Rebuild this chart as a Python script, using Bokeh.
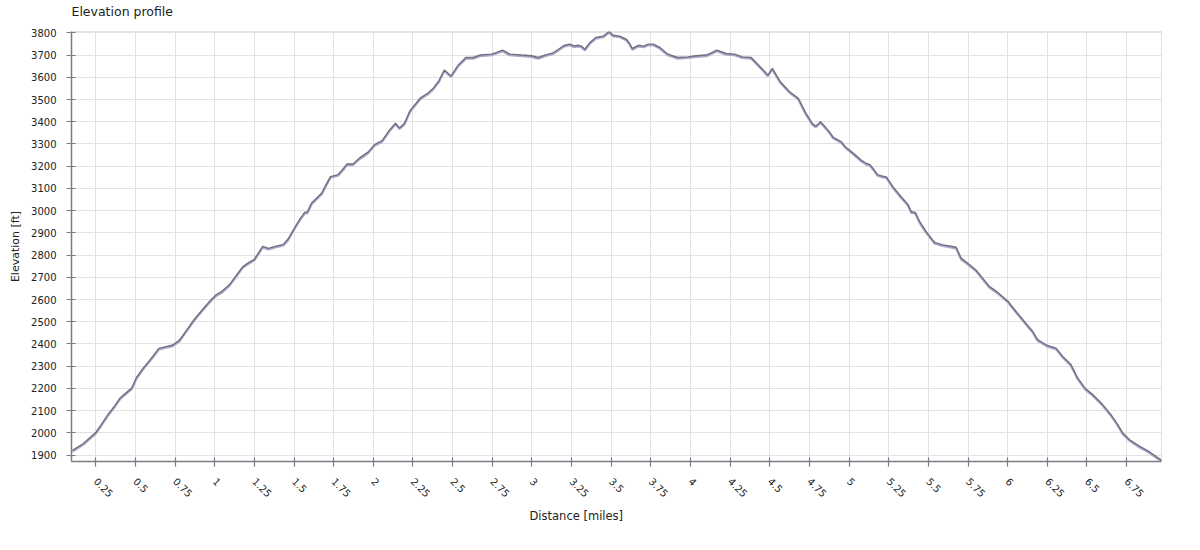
import math
from bokeh.plotting import figure
from bokeh.models import ColumnDataSource, FixedTicker, Range1d, Title
from bokeh.transform import dodge
from bokeh.embed import file_html
from bokeh.resources import INLINE

# ---- data ----
distance_mi = [0.103, 0.170, 0.202, 0.25, 0.286, 0.328, 0.369, 0.405, 0.443, 0.478,
               0.506, 0.548, 0.600, 0.648, 0.694, 0.736, 0.778, 0.820, 0.872, 0.925,
               0.967, 1.009, 1.050, 1.092, 1.134, 1.176, 1.214, 1.250, 1.271, 1.303,
               1.339, 1.381, 1.433, 1.464, 1.5, 1.538, 1.569, 1.584, 1.611, 1.674,
               1.705, 1.730, 1.778, 1.810, 1.835, 1.872, 1.914, 1.967, 2.008, 2.056,
               2.103, 2.140, 2.165, 2.197, 2.232, 2.297, 2.343, 2.375, 2.412, 2.448,
               2.490, 2.536, 2.584, 2.630, 2.672, 2.746, 2.777, 2.815, 2.861, 2.935,
               2.998, 3.04, 3.082, 3.134, 3.166, 3.202, 3.239, 3.265, 3.292, 3.313,
               3.334, 3.366, 3.403, 3.45, 3.471, 3.487, 3.513, 3.555, 3.597, 3.613,
               3.634, 3.670, 3.706, 3.733, 3.765, 3.807, 3.857, 3.92, 3.983, 4.036,
               4.099, 4.131, 4.166, 4.225, 4.278, 4.326, 4.383, 4.436, 4.488, 4.516,
               4.566, 4.625, 4.68, 4.726, 4.77, 4.79, 4.82, 4.87, 4.90, 4.95,
               4.98, 5.02, 5.078, 5.110, 5.131, 5.152, 5.179, 5.204, 5.235, 5.277,
               5.319, 5.371, 5.392, 5.417, 5.445, 5.486, 5.539, 5.591, 5.633, 5.675,
               5.706, 5.748, 5.800, 5.842, 5.884, 5.936, 6.0, 6.053, 6.105, 6.158,
               6.189, 6.25, 6.305, 6.347, 6.399, 6.441, 6.49, 6.536, 6.599, 6.651,
               6.693, 6.725, 6.767, 6.830, 6.893, 6.971]
elevation_ft = [1921, 1951, 1971, 2001, 2038, 2083, 2121, 2158, 2181, 2203,
                2248, 2290, 2335, 2380, 2388, 2395, 2417, 2459, 2511, 2556,
                2591, 2621, 2639, 2666, 2706, 2747, 2766, 2781, 2804, 2839,
                2830, 2839, 2848, 2873, 2918, 2963, 2993, 2993, 3034, 3078,
                3120, 3153, 3162, 3188, 3210, 3210, 3237, 3263, 3297, 3315,
                3363, 3393, 3372, 3393, 3450, 3507, 3528, 3548, 3582, 3633,
                3606, 3655, 3689, 3689, 3700, 3704, 3712, 3722, 3704, 3700,
                3697, 3689, 3700, 3710, 3725, 3743, 3749, 3741, 3744, 3740,
                3726, 3756, 3779, 3785, 3797, 3806, 3789, 3785, 3770, 3755,
                3729, 3744, 3740, 3749, 3749, 3734, 3704, 3689, 3692, 3697,
                3700, 3710, 3722, 3707, 3704, 3692, 3689, 3650, 3610, 3640,
                3580, 3535, 3505, 3440, 3390, 3380, 3400, 3360, 3330, 3310,
                3285, 3262, 3226, 3212, 3207, 3189, 3162, 3156, 3152, 3107,
                3070, 3028, 2995, 2992, 2950, 2905, 2857, 2846, 2841, 2835,
                2786, 2763, 2733, 2696, 2659, 2633, 2593, 2546, 2501, 2456,
                2419, 2393, 2381, 2344, 2307, 2247, 2199, 2172, 2127, 2082,
                2038, 2000, 1970, 1940, 1915, 1876]

x_ticks = [0.25, 0.5, 0.75, 1, 1.25, 1.5, 1.75, 2, 2.25, 2.5, 2.75, 3, 3.25, 3.5,
           3.75, 4, 4.25, 4.5, 4.75, 5, 5.25, 5.5, 5.75, 6, 6.25, 6.5, 6.75]
x_tick_labels = ["0.25", "0.5", "0.75", "1", "1.25", "1.5", "1.75", "2", "2.25",
                 "2.5", "2.75", "3", "3.25", "3.5", "3.75", "4", "4.25", "4.5",
                 "4.75", "5", "5.25", "5.5", "5.75", "6", "6.25", "6.5", "6.75"]
y_ticks = list(range(1900, 3801, 100))

title_text = "Elevation profile"
x_label = "Distance [miles]"
y_label = "Elevation [ft]"

# ---- figure ----
FONT = "DejaVu Sans"
p = figure(width=1195, height=545, output_backend="svg", toolbar_location=None,
           x_range=Range1d(0.097, 6.97), y_range=Range1d(1871, 3806),
           min_border_left=71, min_border_right=34, min_border_top=31,
           min_border_bottom=84)
p.background_fill_color = "white"
p.border_fill_color = "white"
p.outline_line_color = "#e2e2e2"

# spacer between frame and title (closest to the frame), then the title itself
p.add_layout(Title(text=" ", text_font_size="1px", standoff=10), "above")
p.add_layout(Title(text=title_text, text_font=FONT, text_font_size="12.5px",
                   text_font_style="normal", text_color="#222222", standoff=0,
                   align="left"), "above")

src = ColumnDataSource(dict(d=distance_mi, e=elevation_ft))
p.line(x="d", y=dodge("e", -5, range=p.y_range), source=src,
       line_color="#a9a9c9", line_width=2.2)
p.line(x="d", y="e", source=src, line_color="#6f6f80", line_width=1.4)

for ax in (p.xaxis[0], p.yaxis[0]):
    ax.axis_line_color = "#7c7c88"
    ax.axis_line_width = 1.5
    ax.major_tick_line_color = "#7c7c88"
    ax.major_tick_line_width = 1.2
    ax.major_tick_in = 4
    ax.major_tick_out = 5
    ax.minor_tick_line_color = None
    ax.major_label_text_font = FONT
    ax.major_label_text_font_size = "10px"
    ax.major_label_text_color = "#222222"
    ax.axis_label_text_font = FONT
    ax.axis_label_text_font_size = "11px"
    ax.axis_label_text_font_style = "normal"
    ax.axis_label_text_color = "#222222"

p.xaxis.ticker = FixedTicker(ticks=x_ticks)
p.xaxis.major_label_overrides = {t: l for t, l in zip(x_ticks, x_tick_labels)}
p.xaxis.major_label_orientation = -math.pi / 4
p.xaxis.major_label_standoff = 13
p.yaxis.ticker = FixedTicker(ticks=y_ticks)
p.yaxis.major_label_standoff = 10
p.yaxis.axis_label = y_label
p.yaxis.axis_label_standoff = 6

p.add_layout(Title(text=x_label, align="left", offset=458, text_font=FONT,
                   text_font_size="11.5px", text_font_style="normal",
                   text_color="#222222", standoff=7), "below")

p.xgrid.grid_line_color = "#e2e2e2"
p.ygrid.grid_line_color = "#e2e2e2"
p.xgrid.ticker = FixedTicker(ticks=x_ticks)
p.ygrid.ticker = FixedTicker(ticks=y_ticks)

open("out.html", "w").write(file_html(p, INLINE))
